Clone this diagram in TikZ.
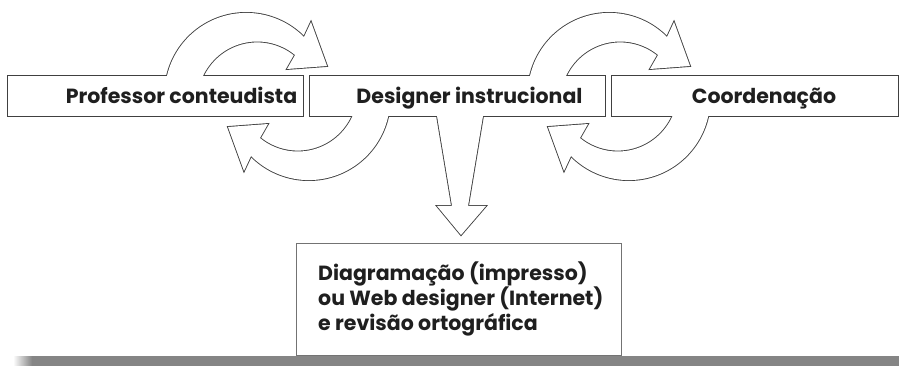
\documentclass[tikz,border=0pt]{standalone}
\usepackage{fontspec}
\setmainfont{Poppins}
\begin{document}
\begin{tikzpicture}[x=1pt,y=-1pt,
  lbl/.style={font=\fontsize{20.5}{25}\selectfont\bfseries, text=black!88, inner sep=0pt},
  outl/.style={draw=black!75, line width=1.8pt, line join=miter},
  inn/.style={fill=white}]
\useasboundingbox (0,0) rectangle (899,366);
\newcommand\cycarrow{plot[domain=190:315.3,samples=60] ({246.2+81.3*cos(\x)},{94.2+81.3*sin(\x)})
  -- (311,22) -- (327,66) -- (287,69)
  -- plot[domain=309.2:200,samples=60] ({257.2+59.9*cos(\x)},{101.4+59.9*sin(\x)}) -- cycle}
\newcommand\allshapes[1]{%
  \path[#1] (8,76) rectangle (303,116);
  \path[#1] (310,76) rectangle (605,116);
  \path[#1] (612,76) rectangle (898,116);
  \path[#1] (436,110) -- (452,206) -- (437,206) -- (461,235) -- (486,206) -- (468,206) -- (484,110) -- cycle;
  \path[#1] \cycarrow;
  \begin{scope}[rotate around={180:(277.5,96.5)}]\path[#1] \cycarrow;\end{scope}
  \begin{scope}[shift={(363,0)}]\path[#1] \cycarrow;\end{scope}
  \begin{scope}[rotate around={180:(437.5,96.5)}]\path[#1] \cycarrow;\end{scope}
}
% bottom shadow bar
\shade[left color=white, right color=black!48] (13,356) rectangle (32,366);
\fill[black!48] (32,356) rectangle (899,366);
% merged outlines
\allshapes{outl}
\allshapes{inn}
% bottom box
\node[draw=black!55, line width=1.2pt, fill=white, minimum width=325pt, minimum height=112pt, inner sep=0pt, anchor=north west] (d) at (296,243) {};
% labels
\node[lbl, anchor=base] (p) at (181.5,104) {Professor conteudista};
\node[lbl, anchor=base] (di) at (469.5,104) {Designer instrucional};
\node[lbl, anchor=base] (c) at (764,104) {Coordenação};
\node[lbl, anchor=base west] (t1) at (318,280) {Diagramação (impresso)};
\node[lbl, anchor=base west] (t2) at (318,305) {ou Web designer (Internet)};
\node[lbl, anchor=base west] (t3) at (318,330) {e revisão ortográfica};
\end{tikzpicture}
\end{document}
